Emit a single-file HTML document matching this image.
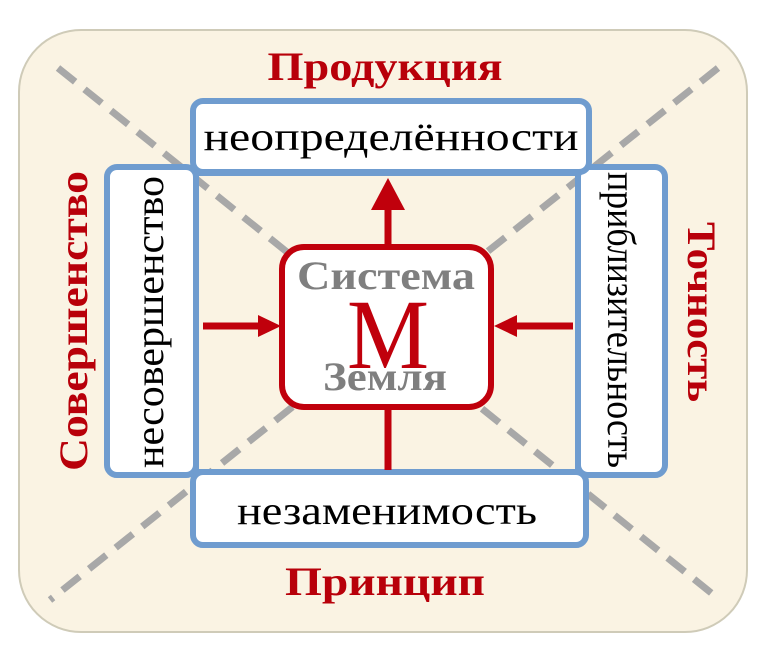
<!DOCTYPE html>
<html><head><meta charset="utf-8"><style>html,body{margin:0;padding:0;background:#fff}svg{display:block}</style></head>
<body>
<svg width="768" height="667" viewBox="0 0 768 667" xmlns="http://www.w3.org/2000/svg" font-family="'Liberation Serif', serif">
<defs><clipPath id="c"><rect x="196" y="174" width="382" height="296"/></clipPath></defs>
<rect x="19" y="30" width="728" height="602" rx="62" fill="#faf3e3" stroke="#cfcbb8" stroke-width="2"/>
<g stroke="#a8a8a8" stroke-width="7" stroke-dasharray="22,12">
<line x1="58" y1="68" x2="720" y2="600"/>
<line x1="718" y1="68" x2="50" y2="600"/>
</g>
<g fill="#fff" stroke="#6f9ccf" stroke-width="6">
<rect x="107" y="167" width="89" height="308" rx="10"/>
<rect x="578" y="167" width="87" height="308" rx="10"/>
<rect x="193" y="101" width="396" height="71" rx="10"/>
<rect x="193" y="472" width="393" height="73" rx="10"/>
</g>
<rect x="196" y="174" width="382" height="296" fill="#faf3e3"/>
<g stroke="#a8a8a8" stroke-width="7" stroke-dasharray="22,12" clip-path="url(#c)">
<line x1="58" y1="68" x2="720" y2="600"/>
<line x1="718" y1="68" x2="50" y2="600"/>
</g>
<g stroke="#6f9ccf" stroke-width="6">
<line x1="196" y1="172" x2="196" y2="472"/>
<line x1="578" y1="172" x2="578" y2="472"/>
<line x1="196" y1="173" x2="578" y2="173"/>
<line x1="196" y1="472" x2="578" y2="472"/>
</g>
<g stroke="#c0000c" stroke-width="7" fill="none">
<line x1="388" y1="245" x2="388" y2="205"/>
<line x1="388" y1="408" x2="388" y2="470"/>
<line x1="203" y1="326" x2="262" y2="326"/>
<line x1="573" y1="326" x2="512" y2="326"/>
</g>
<g fill="#c0000c">
<polygon points="388,178 371,210 405,210"/>
<polygon points="281,326 258,315 258,337"/>
<polygon points="494,326 517,315 517,337"/>
</g>
<rect x="282" y="247" width="209" height="160" rx="22" fill="#fff" stroke="#c0000c" stroke-width="6"/>
<text x="388" y="368" text-anchor="middle" font-size="100" fill="#c0000c" textLength="82" lengthAdjust="spacingAndGlyphs">М</text>
<text x="386" y="289" text-anchor="middle" font-size="40" font-weight="bold" fill="#7f7f7f" textLength="178" lengthAdjust="spacingAndGlyphs">Система</text>
<text x="385" y="390" text-anchor="middle" font-size="40" font-weight="bold" fill="#7f7f7f" textLength="124" lengthAdjust="spacingAndGlyphs">Земля</text>
<g fill="#b8000a" font-weight="bold" font-size="40">
<text x="385" y="80" text-anchor="middle" textLength="235" lengthAdjust="spacingAndGlyphs">Продукция</text>
<text x="385" y="595" text-anchor="middle" textLength="200" lengthAdjust="spacingAndGlyphs">Принцип</text>
<text transform="translate(87,321) rotate(-90)" text-anchor="middle" textLength="300" lengthAdjust="spacingAndGlyphs">Совершенство</text>
<text transform="translate(688,312) rotate(90)" text-anchor="middle" textLength="180" lengthAdjust="spacingAndGlyphs">Точность</text>
</g>
<g fill="#000" font-size="40">
<text x="391" y="150" text-anchor="middle" textLength="375" lengthAdjust="spacingAndGlyphs">неопределённости</text>
<text x="387" y="524" text-anchor="middle" textLength="300" lengthAdjust="spacingAndGlyphs">незаменимость</text>
<text transform="translate(163,322) rotate(-90)" text-anchor="middle" textLength="292" lengthAdjust="spacingAndGlyphs">несовершенство</text>
<text transform="translate(608,320) rotate(90)" text-anchor="middle" textLength="296" lengthAdjust="spacingAndGlyphs">приблизительность</text>
</g>
</svg>
</body></html>
